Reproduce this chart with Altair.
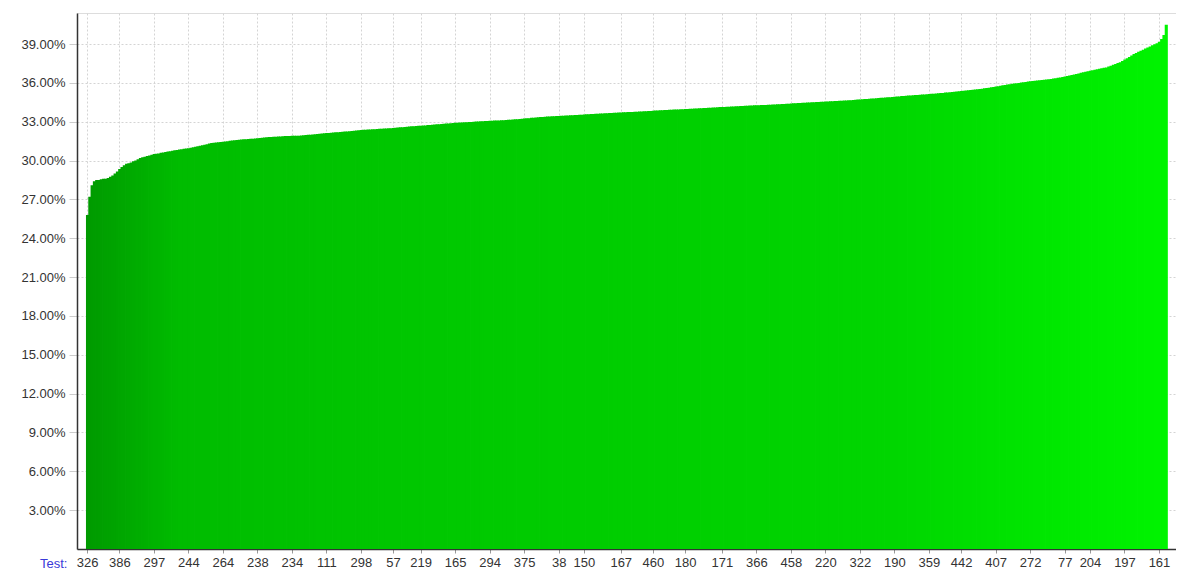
import altair as alt
import pandas as pd

# Sorted result per test (percent), read left to right from the picture
values = [
    25.8, 27.2, 28.1, 28.4, 28.5, 28.5, 28.55, 28.6, 28.6, 28.65, 28.75, 28.85, 29.0, 29.15, 29.35, 29.5, 29.65, 29.75, 29.8, 29.85,
    29.95, 30.0, 30.1, 30.2, 30.25, 30.3, 30.35, 30.4, 30.45, 30.5, 30.52, 30.55, 30.6, 30.63, 30.67, 30.7, 30.73, 30.76, 30.8, 30.82,
    30.85, 30.88, 30.91, 30.93, 30.95, 30.99, 31.03, 31.07, 31.1, 31.14, 31.18, 31.22, 31.27, 31.32, 31.35, 31.38, 31.4, 31.42, 31.44, 31.46,
    31.48, 31.5, 31.53, 31.55, 31.57, 31.59, 31.61, 31.63, 31.64, 31.65, 31.66, 31.68, 31.69, 31.7, 31.72, 31.74, 31.76, 31.78, 31.8, 31.82,
    31.83, 31.84, 31.85, 31.86, 31.87, 31.88, 31.89, 31.9, 31.9, 31.91, 31.91, 31.92, 31.92, 31.93, 31.95, 31.97, 31.99, 32.0, 32.02, 32.04,
    32.06, 32.08, 32.1, 32.11, 32.13, 32.14, 32.15, 32.17, 32.18, 32.19, 32.21, 32.22, 32.24, 32.25, 32.27, 32.29, 32.31, 32.33, 32.35, 32.36,
    32.38, 32.39, 32.4, 32.41, 32.42, 32.43, 32.44, 32.45, 32.46, 32.47, 32.48, 32.49, 32.5, 32.52, 32.53, 32.55, 32.57, 32.58, 32.6, 32.62,
    32.63, 32.65, 32.66, 32.68, 32.69, 32.7, 32.71, 32.72, 32.74, 32.75, 32.77, 32.78, 32.8, 32.81, 32.83, 32.84, 32.86, 32.87, 32.89, 32.9,
    32.92, 32.93, 32.94, 32.95, 32.96, 32.97, 32.98, 32.99, 33.0, 33.01, 33.02, 33.03, 33.04, 33.05, 33.06, 33.07, 33.08, 33.09, 33.1, 33.1,
    33.11, 33.12, 33.14, 33.15, 33.16, 33.18, 33.19, 33.2, 33.22, 33.24, 33.25, 33.27, 33.28, 33.3, 33.31, 33.33, 33.34, 33.36, 33.37, 33.39,
    33.4, 33.41, 33.42, 33.43, 33.44, 33.45, 33.46, 33.47, 33.48, 33.49, 33.5, 33.51, 33.52, 33.53, 33.54, 33.55, 33.56, 33.57, 33.58, 33.59,
    33.6, 33.61, 33.62, 33.63, 33.64, 33.65, 33.66, 33.67, 33.68, 33.69, 33.7, 33.71, 33.72, 33.73, 33.74, 33.75, 33.76, 33.76, 33.77, 33.78,
    33.79, 33.8, 33.81, 33.82, 33.83, 33.84, 33.85, 33.86, 33.87, 33.88, 33.89, 33.9, 33.91, 33.92, 33.93, 33.94, 33.94, 33.95, 33.96, 33.97,
    33.98, 33.99, 34.0, 34.01, 34.02, 34.03, 34.04, 34.05, 34.06, 34.07, 34.08, 34.09, 34.1, 34.11, 34.12, 34.13, 34.14, 34.14, 34.15, 34.16,
    34.17, 34.18, 34.19, 34.2, 34.21, 34.22, 34.23, 34.24, 34.25, 34.26, 34.27, 34.27, 34.28, 34.29, 34.3, 34.3, 34.31, 34.32, 34.33, 34.34,
    34.35, 34.36, 34.37, 34.38, 34.39, 34.4, 34.41, 34.42, 34.43, 34.44, 34.45, 34.46, 34.47, 34.48, 34.49, 34.5, 34.51, 34.52, 34.53, 34.54,
    34.55, 34.56, 34.57, 34.58, 34.59, 34.6, 34.61, 34.62, 34.63, 34.64, 34.65, 34.66, 34.67, 34.68, 34.69, 34.71, 34.72, 34.73, 34.75, 34.76,
    34.78, 34.79, 34.8, 34.82, 34.83, 34.85, 34.86, 34.88, 34.89, 34.9, 34.92, 34.93, 34.95, 34.96, 34.98, 34.99, 35.0, 35.02, 35.03, 35.05,
    35.06, 35.07, 35.09, 35.1, 35.11, 35.13, 35.14, 35.16, 35.17, 35.19, 35.2, 35.22, 35.23, 35.25, 35.26, 35.28, 35.29, 35.31, 35.33, 35.35,
    35.37, 35.39, 35.41, 35.43, 35.45, 35.47, 35.49, 35.51, 35.53, 35.55, 35.58, 35.61, 35.63, 35.66, 35.69, 35.72, 35.75, 35.78, 35.81, 35.84,
    35.87, 35.9, 35.93, 35.96, 35.98, 36.0, 36.03, 36.05, 36.08, 36.11, 36.13, 36.15, 36.17, 36.19, 36.21, 36.23, 36.25, 36.27, 36.29, 36.31,
    36.34, 36.36, 36.39, 36.42, 36.45, 36.49, 36.53, 36.57, 36.61, 36.65, 36.69, 36.73, 36.78, 36.83, 36.86, 36.9, 36.94, 36.98, 37.02, 37.06,
    37.1, 37.13, 37.17, 37.2, 37.27, 37.33, 37.4, 37.47, 37.53, 37.6, 37.7, 37.8, 37.9, 38.0, 38.12, 38.23, 38.32, 38.4, 38.49, 38.57,
    38.65, 38.74, 38.82, 38.9, 38.98, 39.06, 39.18, 39.4, 39.7, 40.5,
]

# Positions (bar index) of the labelled tests on the x axis, and their labels
tick_idx = [0, 14, 29, 44, 59, 74, 89, 104, 119, 133, 145, 160, 175, 190, 205, 216,
            232, 246, 260, 276, 291, 306, 321, 336, 351, 366, 380, 395, 410, 425, 436, 451, 466]
tick_labels = ["326", "386", "297", "244", "264", "238", "234", "111", "298", "57", "219",
               "165", "294", "375", "38", "150", "167", "460", "180", "171", "366", "458",
               "220", "322", "190", "359", "442", "407", "272", "77", "204", "197", "161"]

y_ticks = [0.03, 0.06, 0.09, 0.12, 0.15, 0.18, 0.21, 0.24, 0.27, 0.30, 0.33, 0.36, 0.39]

df = pd.DataFrame({"i": list(range(len(values))), "v": [v / 100 for v in values]})

label_expr = ("[" + ",".join("'" + s + "'" for s in tick_labels) + "][indexof(["
              + ",".join(str(t) for t in tick_idx) + "], datum.value)]")

FONT = "Liberation Sans"

green = alt.Scale(domain=[0, 40, 150, 350, 469],
                  range=["#009a00", "#00bc00", "#00c800", "#00d600", "#00f400"])

chart = alt.Chart(df).transform_calculate(
    x0="datum.i - 0.5", x1="datum.i + 0.85"
).mark_bar().encode(
    x=alt.X("x0:Q",
            scale=alt.Scale(domain=[-4.4, 473.4], nice=False, zero=False),
            axis=alt.Axis(values=tick_idx, labelExpr=label_expr, labelAngle=0,
                          labelOverlap=False, labelFlush=False,
                          labelFontSize=13, labelColor="#333333",
                          labelFont=FONT, labelPadding=3,
                          tickSize=4, tickColor="#999999",
                          domainColor="#333333", domainWidth=1.5,
                          grid=True, gridDash=[2, 2], gridColor="#d4d4d4",
                          title="Test:", titleFont=FONT, titleFontSize=13,
                          titleFontWeight="normal", titleColor="#3a3ad8",
                          titleAlign="right", titleBaseline="middle",
                          titleX=-10, titleY=14)),
    x2="x1:Q",
    y=alt.Y("v:Q",
            scale=alt.Scale(domain=[0, 0.414], nice=False, zero=True),
            axis=alt.Axis(values=y_ticks, format=".2%", title=None,
                          labelFontSize=13, labelColor="#333333", labelFont=FONT,
                          labelPadding=4, tickSize=8, tickColor="#cccccc",
                          domainColor="#333333", domainWidth=1.5,
                          grid=True, gridDash=[2, 2], gridColor="#d4d4d4")),
    y2=alt.datum(0),
    color=alt.Color("i:Q", scale=green, legend=None),
).properties(
    width=1099, height=536,
    autosize=alt.AutoSizeParams(type="none"),
    padding={"left": 69, "top": 5, "right": 0, "bottom": 30},
).configure_view(stroke=None).configure(background="white")

chart.save("out.html", embed_options={"renderer": "svg", "actions": False})
